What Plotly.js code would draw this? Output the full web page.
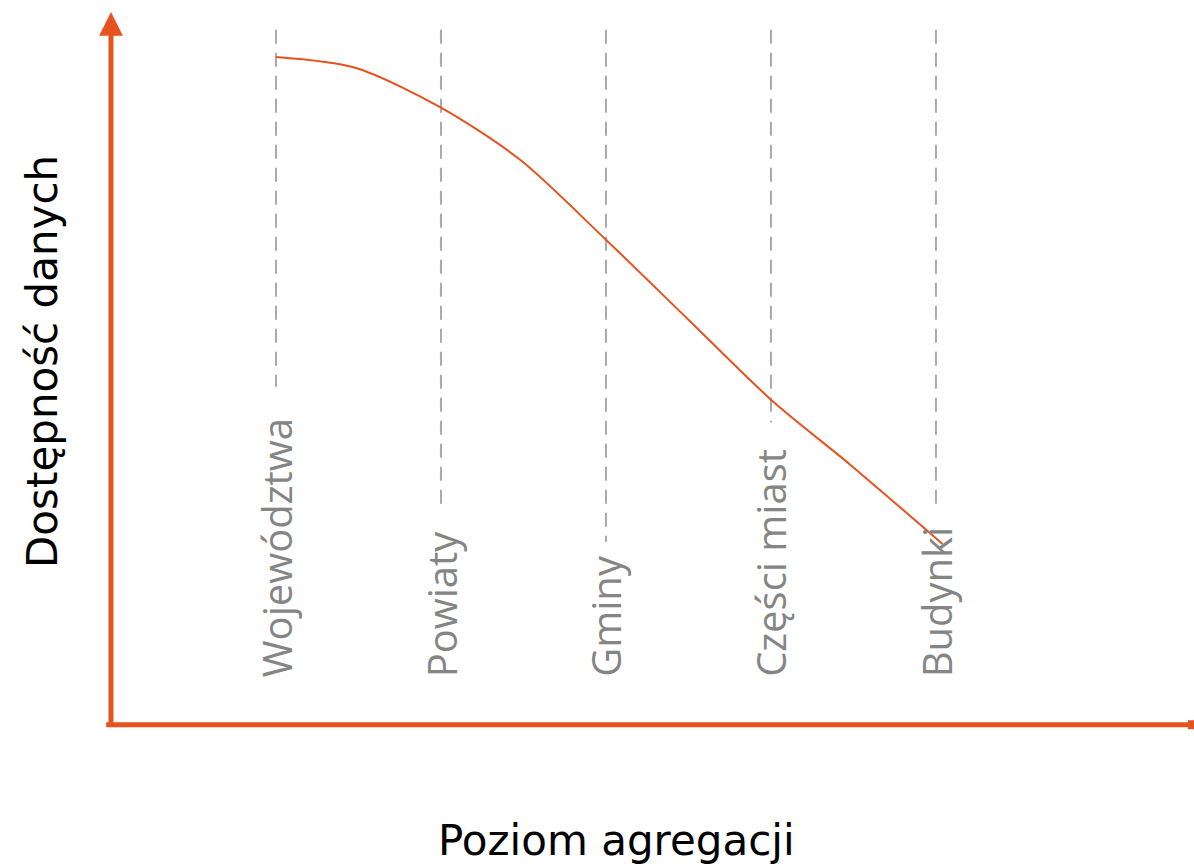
<!DOCTYPE html>
<html>
<head>
<meta charset="utf-8">
<script src="https://cdn.plot.ly/plotly-3.0.1.min.js"></script>
<style>html,body{margin:0;padding:0;background:#fff;}#chart{width:1194px;height:867px;}</style>
</head>
<body>
<div id="chart"></div>
<script>
// Categories (aggregation levels), positioned at index 0..4
const categories = ["Województwa", "Powiaty", "Gminy", "Części miast", "Budynki"];
// Where each dashed guide stops (data units on y axis, 0..100)
const guideTop = 97.5;
const guideEnd = [47.5, 29.9, 25.8, 42.5, 30.6];
// Curve: data availability vs aggregation level
const curveX = [0, 0.48, 1, 1.48, 2, 2.5, 3, 3.48, 4.04];
const curveY = [93.7, 92.2, 86.6, 79.3, 68.1, 56.9, 45.7, 36.6, 25.5];

const xTitle = "Poziom agregacji";
const yTitle = "Dostępność danych";

const ORANGE = "#E6531F";
const GUIDE = "#AAAAAA";
const LABEL = "#858585";

const traces = [];
categories.forEach((c, i) => {
  traces.push({
    x: [i, i], y: [guideTop, guideEnd[i]],
    mode: "lines", type: "scatter", hoverinfo: "skip", showlegend: false,
    line: {color: GUIDE, width: 2, dash: "14px,9px"}
  });
});
traces.push({
  x: curveX, y: curveY, mode: "lines", type: "scatter", showlegend: false,
  line: {color: ORANGE, width: 2, shape: "spline", smoothing: 0.8}
});

const annotations = categories.map((c, i) => ({
  x: i, y: 6.6, xref: "x", yref: "y", text: c, showarrow: false,
  textangle: -90, xanchor: "center", yanchor: "bottom",
  font: {family: "Open Sans, sans-serif", size: 40, color: LABEL}
}));
// vertical axis arrow
annotations.push({
  x: 0.0009, y: 1, xref: "paper", yref: "paper", ax: 0.0009, ay: -0.0035,
  axref: "paper", ayref: "paper", showarrow: true, arrowhead: 2, arrowsize: 0.95,
  arrowwidth: 5, arrowcolor: ORANGE, text: ""
});
// titles
annotations.push({
  x: 0.467, y: 0, xref: "paper", yref: "paper", yshift: -114, text: xTitle,
  showarrow: false, xanchor: "center", yanchor: "middle",
  font: {family: "DejaVu Sans, sans-serif", size: 42, color: "#000"}
});
annotations.push({
  x: 0, y: 0.5, xref: "paper", yref: "paper", xshift: -68, yshift: 7, text: yTitle,
  showarrow: false, textangle: -90, xanchor: "center", yanchor: "middle",
  font: {family: "DejaVu Sans, sans-serif", size: 42, color: "#000"}
});

const layout = {
  width: 1194, height: 867,
  margin: {l: 110, r: 0, t: 12, b: 141, pad: 0},
  paper_bgcolor: "#fff", plot_bgcolor: "#fff",
  xaxis: {range: [-1.006, 5.564], showgrid: false, zeroline: false, showticklabels: false, ticks: "", showline: false, fixedrange: true},
  yaxis: {range: [0, 100], showgrid: false, zeroline: false, showticklabels: false, ticks: "", showline: false, fixedrange: true},
  shapes: [
    {type: "line", xref: "paper", yref: "paper", x0: -0.0035, x1: 1, y0: 0.0018, y1: 0.0018,
     line: {color: ORANGE, width: 5}},
    {type: "line", xref: "paper", yref: "paper", x0: 0.9945, x1: 1, y0: 0.0018, y1: 0.0018,
     line: {color: ORANGE, width: 9}}
  ],
  annotations: annotations,
  showlegend: false
};

Plotly.newPlot("chart", traces, layout, {displayModeBar: false, staticPlot: true});
</script>
</body>
</html>
